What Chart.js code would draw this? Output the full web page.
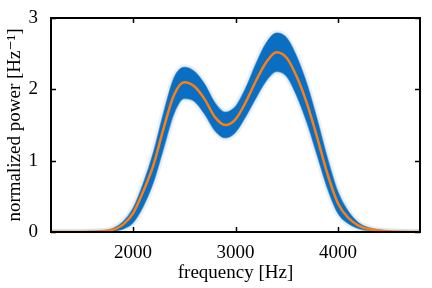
<!DOCTYPE html>
<html>
<head>
<meta charset="utf-8">
<script src="https://cdn.jsdelivr.net/npm/chart.js@4"></script>
<style>
  html, body { margin: 0; padding: 0; background: #fff; }
  #wrap { width: 432px; height: 288px; }
</style>
</head>
<body>
<div id="wrap"><canvas id="chart"></canvas></div>
<script>
// frequencies, Hz
const freqs = [1200, 1300, 1400, 1500, 1600, 1700, 1800, 1900, 2000, 2100, 2200, 2300,
  2400, 2500, 2600, 2700, 2800, 2900, 3000, 3100, 3200, 3300, 3400, 3500,
  3600, 3700, 3800, 3900, 4000, 4100, 4200, 4300, 4400, 4500, 4600, 4700, 4800];

// mean spectrum (orange)
const meanPower = [0, 0, 0, 0.001, 0.004, 0.01, 0.03, 0.10, 0.26, 0.57, 0.94, 1.46,
  1.92, 2.10, 2.04, 1.86, 1.61, 1.50, 1.58, 1.82, 2.12, 2.38, 2.52, 2.44,
  2.17, 1.79, 1.31, 0.80, 0.40, 0.20, 0.09, 0.04, 0.02, 0.008, 0.003, 0.001, 0];

// envelope of the sampled spectra (blue band)
const upperPower = [0, 0, 0, 0.002, 0.006, 0.015, 0.045, 0.14, 0.33, 0.68, 1.12, 1.68,
  2.16, 2.31, 2.25, 2.07, 1.81, 1.68, 1.76, 2.02, 2.36, 2.65, 2.79, 2.72,
  2.45, 2.06, 1.56, 1.02, 0.56, 0.29, 0.13, 0.06, 0.028, 0.011, 0.004, 0.001, 0];
const lowerPower = [0, 0, 0, 0, 0.001, 0.004, 0.012, 0.04, 0.13, 0.36, 0.70, 1.18,
  1.66, 1.87, 1.83, 1.65, 1.42, 1.32, 1.40, 1.62, 1.88, 2.12, 2.25, 2.18,
  1.90, 1.52, 1.06, 0.60, 0.26, 0.12, 0.05, 0.02, 0.01, 0.004, 0.001, 0, 0];

const xTicks = [2000, 3000, 4000];
const yTicks = [0, 1, 2, 3];

const pts = (arr) => freqs.map((f, i) => ({ x: f, y: arr[i] }));

const font = { family: "'Liberation Serif', 'DejaVu Serif', serif", size: 19 };

// frame and inward ticks on all four sides
const frame = {
  id: "frame",
  afterDraw(chart) {
    const { ctx, chartArea: a, scales } = chart;
    ctx.save();
    ctx.strokeStyle = "#000";
    ctx.lineWidth = 2;
    ctx.strokeRect(a.left, a.top, a.right - a.left, a.bottom - a.top);
    ctx.lineWidth = 1.5;
    const len = 5;
    ctx.beginPath();
    xTicks.forEach((v) => {
      const px = Math.round(scales.x.getPixelForValue(v)) + 0.5;
      ctx.moveTo(px, a.bottom); ctx.lineTo(px, a.bottom - len);
      ctx.moveTo(px, a.top); ctx.lineTo(px, a.top + len);
    });
    yTicks.forEach((v) => {
      const py = Math.round(scales.y.getPixelForValue(v)) + 0.5;
      ctx.moveTo(a.left, py); ctx.lineTo(a.left + len, py);
      ctx.moveTo(a.right, py); ctx.lineTo(a.right - len, py);
    });
    ctx.stroke();
    ctx.restore();
  },
};

const line = { pointRadius: 0, cubicInterpolationMode: "monotone" };

new Chart(document.getElementById("chart"), {
  type: "line",
  data: {
    datasets: [
      // faint outer halo of the sample lines
      { ...line, data: pts(upperPower), borderColor: "rgba(110,130,160,0.12)", borderWidth: 6, fill: false, order: 3 },
      { ...line, data: pts(lowerPower), borderColor: "rgba(110,130,160,0.12)", borderWidth: 6, fill: false, order: 3 },
      // dense blue band
      { ...line, data: pts(upperPower), borderColor: "rgba(10,110,195,0.5)", borderWidth: 1.5, backgroundColor: "rgb(10,110,195)", fill: "+1", order: 2 },
      { ...line, data: pts(lowerPower), borderColor: "rgba(10,110,195,0.5)", borderWidth: 1.5, fill: false, order: 2 },
      // mean
      { ...line, data: pts(meanPower), borderColor: "#ff7f0e", borderWidth: 2.5, fill: false, order: 1 },
    ],
  },
  options: {
    responsive: true,
    maintainAspectRatio: false,
    animation: false,
    layout: { padding: { top: 18, right: 12, left: 0, bottom: 0 } },
    scales: {
      x: {
        type: "linear",
        min: 1200,
        max: 4800,
        afterBuildTicks: (s) => { s.ticks = xTicks.map((v) => ({ value: v })); },
        afterFit: (s) => { s.height = 56; },
        grid: { display: false },
        border: { display: false },
        ticks: { color: "#000", font, padding: 2, maxRotation: 0, callback: (v) => String(v) },
        title: { display: true, text: "frequency [Hz]", color: "#000", font, padding: { top: 0 } },
      },
      y: {
        min: 0,
        max: 3,
        afterBuildTicks: (s) => { s.ticks = yTicks.map((v) => ({ value: v })); },
        afterFit: (s) => { s.width = 51; },
        grid: { display: false },
        border: { display: false },
        ticks: { color: "#000", font, padding: 5 },
        title: { display: true, text: "normalized power [Hz\u207B\u00B9]", color: "#000", font, padding: { bottom: 0 } },
      },
    },
    plugins: { legend: { display: false }, tooltip: { enabled: false } },
  },
  plugins: [frame],
});
</script>
</body>
</html>
